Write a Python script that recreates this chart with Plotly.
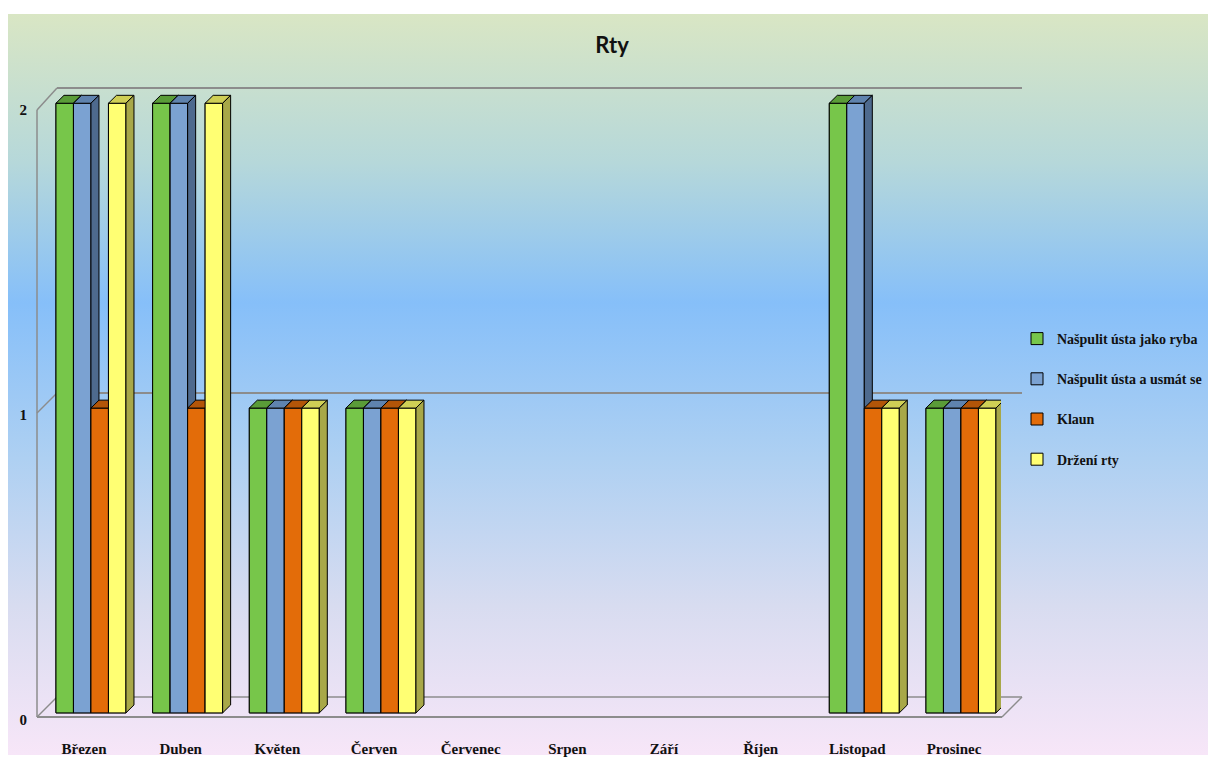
import base64
import plotly.graph_objects as go

# ---------------- data ----------------
months = ["Březen", "Duben", "Květen", "Červen", "Červenec", "Srpen",
          "Září", "Říjen", "Listopad", "Prosinec"]
series_names = ["Našpulit ústa jako ryba", "Našpulit ústa a usmát se",
                "Klaun", "Držení rty"]
ryba = [2, 2, 1, 1, 0, 0, 0, 0, 2, 1]
usmat = [2, 2, 1, 1, 0, 0, 0, 0, 2, 1]
klaun = [1, 1, 1, 1, 0, 0, 0, 0, 1, 1]
drzeni = [2, 2, 1, 1, 0, 0, 0, 0, 1, 1]
y_ticks = [0, 1, 2]

values = [ryba, usmat, klaun, drzeni]
front_cols = ["#77c64a", "#7ba2d2", "#e36c09", "#ffff73"]
top_cols = ["#5a9c38", "#5f83ae", "#b35508", "#cfcf55"]
side_cols = ["#4d8a30", "#4e6a8e", "#9a4907", "#a8a848"]

# ---------------- geometry (styling) ----------------
W = 0.181      # bar width (category units)
OFF0 = -0.29   # offset of first bar from category centre
DX = 0.083     # 3D depth x
DY = 0.026     # 3D depth y

FIG_W, FIG_H = 1208, 760
L, R, T, B = 37, 207, 88, 41
PW, PH = FIG_W - L - R, FIG_H - T - B


def px(x):
    return (x - L) / PW


def py(y):
    return (FIG_H - B - y) / PH


fig = go.Figure()

idx = list(range(len(months)))

# legend carriers / base bars
for k, (name, vals) in enumerate(zip(series_names, values)):
    fig.add_trace(go.Bar(
        x=idx, y=[v if v else None for v in vals], name=name,
        width=W, offset=OFF0 + k * W, legendgroup="g%d" % k,
        marker=dict(color=front_cols[k], line=dict(color="black", width=1)),
        hoverinfo="skip",
    ))

# 3D faces
for k, vals in enumerate(values):
    fx, fy, tx, ty, sx, sy = [], [], [], [], [], []
    for i, v in enumerate(vals):
        if not v:
            continue
        x0 = i + OFF0 + k * W
        x1 = x0 + W
        fx += [x0, x1, x1, x0, x0, None]
        fy += [0, 0, v, v, 0, None]
        tx += [x0, x1, x1 + DX, x0 + DX, x0, None]
        ty += [v, v, v + DY, v + DY, v, None]
        sx += [x1, x1 + DX, x1 + DX, x1, x1, None]
        sy += [0, DY, v + DY, v, 0, None]
    for xs, ys, col in ((fx, fy, front_cols[k]), (tx, ty, top_cols[k]),
                        (sx, sy, side_cols[k])):
        fig.add_trace(go.Scatter(
            x=xs, y=ys, mode="lines", fill="toself", fillcolor=col,
            line=dict(color="black", width=1), showlegend=False,
            hoverinfo="skip",
        ))

# background gradient
svg = """<svg xmlns='http://www.w3.org/2000/svg' width='100' height='100' preserveAspectRatio='none'>
<defs><linearGradient id='g' x1='0' y1='0' x2='0' y2='1'>
<stop offset='0' stop-color='#d9e6c4'/>
<stop offset='0.2' stop-color='#b6d8da'/>
<stop offset='0.39' stop-color='#86bff9'/>
<stop offset='0.6' stop-color='#aed0f2'/>
<stop offset='0.8' stop-color='#d8dcf0'/>
<stop offset='1' stop-color='#f7e6f8'/>
</linearGradient></defs>
<rect width='100' height='100' fill='url(#g)'/></svg>"""
src = "data:image/svg+xml;base64," + base64.b64encode(svg.encode()).decode()

# wall / grid lines (pixel geometry)
gray = "#8c8c8c"
lines = [
    ((37, 110), (37, 717), 1.5),
    ((37, 110), (57, 88), 1.5),
    ((57, 88), (1022, 88), 2),
    ((37, 413), (57, 393), 1.5),
    ((57, 393), (1022, 393), 2),
    ((37, 717), (1002, 717), 2),
    ((1002, 717), (1022, 697), 1.5),
    ((37, 717), (57, 697), 1.5),
    ((57, 697), (1022, 697), 1.5),
]
shapes = []
for (x0, y0), (x1, y1), w in lines:
    shapes.append(dict(type="line", xref="paper", yref="paper",
                       x0=px(x0), y0=py(y0), x1=px(x1), y1=py(y1),
                       line=dict(color=gray, width=w), layer="below"))

fig.update_layout(
    width=FIG_W, height=FIG_H,
    margin=dict(l=L, r=R, t=T, b=B, autoexpand=False),
    paper_bgcolor="white",
    plot_bgcolor="rgba(0,0,0,0)",
    barmode="overlay",
    images=[dict(source=src, xref="paper", yref="paper",
                 x=px(8), y=py(14), sizex=px(1208) - px(8),
                 sizey=py(14) - py(755), xanchor="left", yanchor="top",
                 sizing="stretch", layer="below")],
    shapes=shapes,
    title=dict(text="Rty", x=612 / FIG_W, y=1 - 45 / FIG_H,
               xref="container", yref="container",
               xanchor="center", yanchor="middle",
               font=dict(family="Lato", size=22, color="#111", weight="bold")),
    xaxis=dict(range=[-(84 - L) / 96.67, 9 + (L + PW - 954) / 96.67],
               tickvals=idx, ticktext=months, showgrid=False, zeroline=False,
               showline=False, ticks="", ticklabelstandoff=19,
               tickfont=dict(family="Liberation Serif", size=15,
                             color="#111", weight="bold")),
    yaxis=dict(range=[-0.02, 2.05], tickvals=y_ticks, showgrid=False,
               zeroline=False, showline=False, ticks="",
               ticklabelstandoff=9, ticklabelshift=7,
               tickfont=dict(family="Liberation Serif", size=15,
                             color="#111", weight="bold")),
    legend=dict(x=px(1017), y=py(323), xanchor="left", yanchor="top",
                bgcolor="rgba(0,0,0,0)", tracegroupgap=19,
                itemwidth=30,
                font=dict(family="Liberation Serif", size=14, color="#111",
                          weight="bold")),
    showlegend=True,
)

fig.write_html("out.html")
